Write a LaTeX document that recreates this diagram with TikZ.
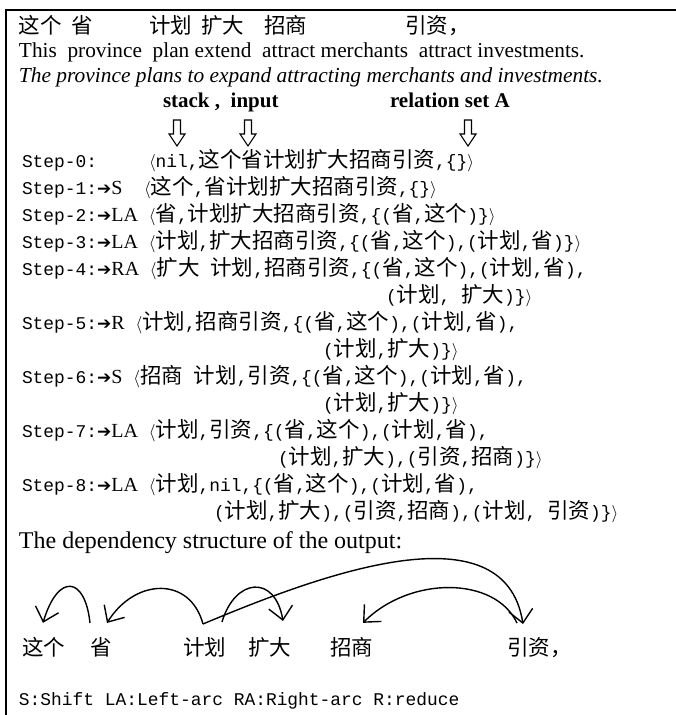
\documentclass[tikz,border=0pt]{standalone}
\usepackage{fontspec}
\setmainfont{Liberation Serif}
\newfontfamily\cjk{Noto Sans CJK SC}
\newfontfamily\monof{Liberation Mono}
\newfontfamily\dvf{DejaVu Sans}
\usetikzlibrary{arrows.meta}
\newcommand\zh[1]{{\cjk\fontsize{21.5}{24}\selectfont #1}}
\newcommand\lab{\(\langle\)}
\newcommand\rab{\(\rangle\)}
\newcommand\arr{{\dvf\fontsize{17}{19}\selectfont ➔}}
\newcommand\op[1]{{\rmfamily\fontsize{20}{22}\selectfont #1}}
\tikzset{
  txt/.style={anchor=base west, inner sep=0pt, outer sep=0pt},
  stepline/.style={txt, font=\monof\fontsize{17.9}{20}\selectfont},
  engline/.style={txt, font=\fontsize{21.3}{24}\selectfont},
  word/.style={txt, font=\cjk\fontsize{21.5}{24}\selectfont},
  dep/.style={line width=1.4pt, -{Straight Barb[length=13pt,width=24pt,line width=1.4pt]}},
  hollowdown/.pic={\draw[line width=1.1pt,line join=miter,fill=white] (-3.5,0) -- (3.5,0) -- (3.5,14) -- (8,14) -- (0,26) -- (-8,14) -- (-3.5,14) -- cycle;}
}
\begin{document}
\begin{tikzpicture}[x=1pt,y=-1pt]
\useasboundingbox (0,0) rectangle (676,715);
\draw[line width=1.8pt] (676,10) -- (6,10) -- (6,715);
% line 1
\node[word] (t1) at (19,33) {这个};
\node[word] (t2) at (71,33) {省};
\node[word] (t3) at (149,33) {计划};
\node[word] (t4) at (201,33) {扩大};
\node[word] (t5) at (264,33) {招商};
\node[word] (t6) at (405,33) {引资，};
\node[engline] (eng) at (19,57) {This\ \ province\ \ plan extend\ \ attract merchants\ \ attract investments.};
\node[engline,font=\itshape\fontsize{21.4}{24}\selectfont] (tr) at (19,82) {The province plans to expand attracting merchants and investments.};
\node[txt,font=\bfseries\fontsize{21}{24}\selectfont] (si) at (163,107) {stack , \ input};
\node[txt,font=\bfseries\fontsize{21}{24}\selectfont] (rs) at (390,107) {relation set A};
\pic at (177,120) {hollowdown};
\pic at (248,120) {hollowdown};
\pic at (468,120) {hollowdown};
% steps
\node[stepline] (s0a) at (22,167) {Step-0:};
\node[stepline] (s0b) at (149,167) {\lab nil,\zh{这个省计划扩大招商引资},\{\}\rab};
\node[stepline] (s1) at (22,194) {Step-1:\arr\op{S}\ \ \lab\zh{这个},\zh{省计划扩大招商引资},\{\}\rab};
\node[stepline] (s2) at (22,221) {Step-2:\arr\op{LA} \lab\zh{省},\zh{计划扩大招商引资},\{(\zh{省},\zh{这个})\}\rab};
\node[stepline] (s3) at (22,248) {Step-3:\arr\op{LA} \lab\zh{计划},\zh{扩大招商引资},\{(\zh{省},\zh{这个}),(\zh{计划},\zh{省})\}\rab};
\node[stepline] (s4) at (22,275) {Step-4:\arr\op{RA} \lab\zh{扩大} \zh{计划},\zh{招商引资},\{(\zh{省},\zh{这个}),(\zh{计划},\zh{省}),};
\node[stepline] (s4c) at (386,302) {(\zh{计划}, \zh{扩大})\}\rab};
\node[stepline] (s5) at (22,329) {Step-5:\arr\op{R} \lab\zh{计划},\zh{招商引资},\{(\zh{省},\zh{这个}),(\zh{计划},\zh{省}),};
\node[stepline] (s5c) at (323,356) {(\zh{计划},\zh{扩大})\}\rab};
\node[stepline] (s6) at (22,383) {Step-6:\arr\op{S} \lab\zh{招商} \zh{计划},\zh{引资},\{(\zh{省},\zh{这个}),(\zh{计划},\zh{省}),};
\node[stepline] (s6c) at (323,410) {(\zh{计划},\zh{扩大})\}\rab};
\node[stepline] (s7) at (22,437) {Step-7:\arr\op{LA} \lab\zh{计划},\zh{引资},\{(\zh{省},\zh{这个}),(\zh{计划},\zh{省}),};
\node[stepline] (s7c) at (278,464) {(\zh{计划},\zh{扩大}),(\zh{引资},\zh{招商})\}\rab};
\node[stepline] (s8) at (22,491) {Step-8:\arr\op{LA} \lab\zh{计划},nil,\{(\zh{省},\zh{这个}),(\zh{计划},\zh{省}),};
\node[stepline] (s8c) at (214,518) {(\zh{计划},\zh{扩大}),(\zh{引资},\zh{招商}),(\zh{计划}, \zh{引资})\}\rab};
\node[engline,font=\fontsize{24}{27}\selectfont] (dst) at (19,548) {The dependency structure of the output:};
% words
\node[word] (w1) at (22,655) {这个};
\node[word] (w2) at (90,655) {省};
\node[word] (w3) at (183,655) {计划};
\node[word] (w4) at (248,655) {扩大};
\node[word] (w5) at (330,655) {招商};
\node[word] (w6) at (507,655) {引资，};
% arcs
\draw[dep] ([shift={(0,-14)}]w2.north west) .. controls +(-5,-47) and +(15,-50) .. ([shift={(21,-14)}]w1.north west);
\draw[dep] ([shift={(20,-13)}]w3.north west) .. controls +(-13,-48) and +(28,-45) .. ([shift={(17,-14)}]w2.north west);
\draw[dep] ([shift={(39,-15)}]w3.north west) .. controls +(13,-44) and +(-8,-47) .. ([shift={(35,-16)}]w4.north west);
\draw[dep] ([shift={(20,-13)}]w3.north west) .. controls +(110,-46) and +(-19,-120) .. ([shift={(16,-13)}]w6.north west);
\draw[dep] ([shift={(10,-14)}]w6.north west) .. controls +(-22,-47) and +(47,-47) .. ([shift={(33,-14)}]w5.north west);
\node[stepline] (leg) at (19,705) {S:Shift LA:Left-arc RA:Right-arc R:reduce};
\end{tikzpicture}
\end{document}
